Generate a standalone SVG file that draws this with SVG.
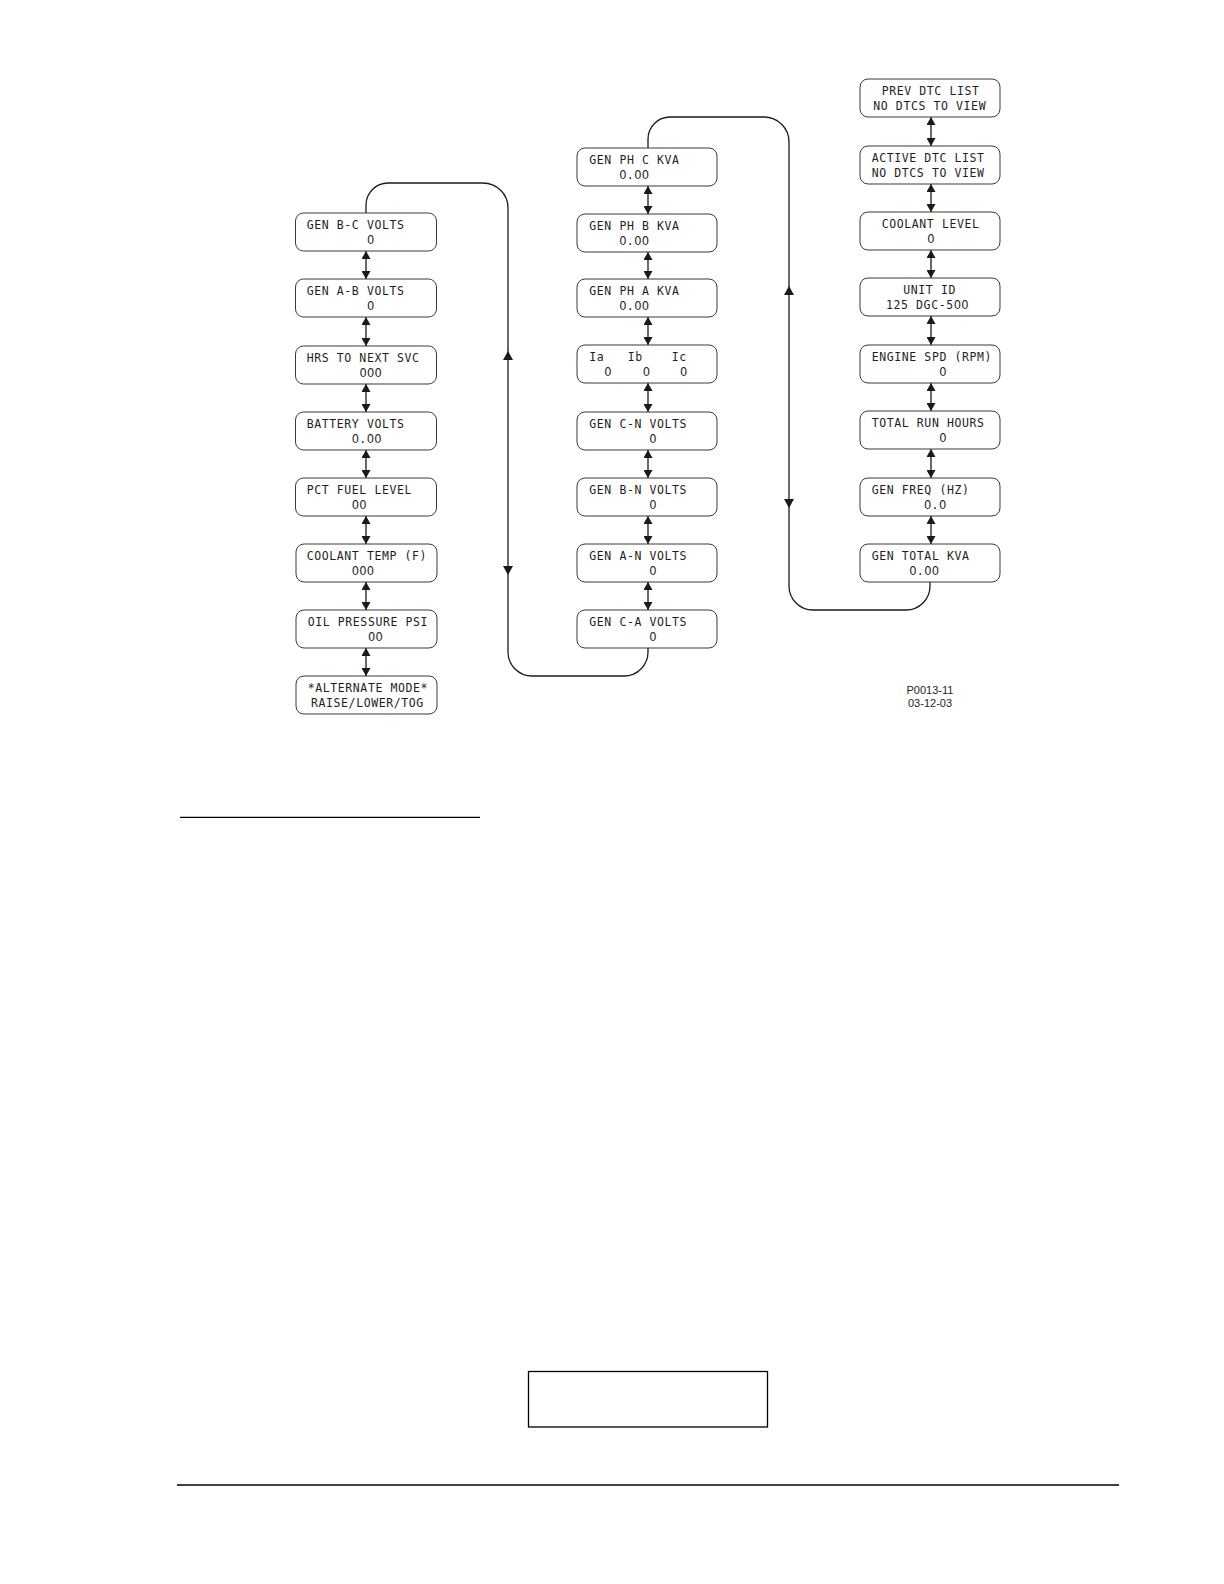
<svg xmlns="http://www.w3.org/2000/svg" width="1224" height="1584" viewBox="0 0 1224 1584">
<style>
.box{fill:#fff;stroke:#3a3a3a;stroke-width:1}
.t{font-family:"DejaVu Sans Mono","Liberation Mono",monospace;font-size:11.5px;letter-spacing:0.6px;fill:#1e1e1e}
.z{font-family:"DejaVu Sans","Liberation Sans",sans-serif;letter-spacing:0.19px}
.c{fill:none;stroke:#1a1a1a;stroke-width:1.3}
.d{stroke:#1a1a1a;stroke-width:1.3;marker-start:url(#ah);marker-end:url(#ah)}
.h{fill:#1a1a1a}
.lbl{font-family:"Liberation Sans",Arial,sans-serif;font-size:11px;fill:#1e1e1e}
.rule{stroke:#000;stroke-width:1.3}
</style>
<defs>
<marker id="ah" viewBox="0 0 8 9" refX="8" refY="4.5" markerWidth="8" markerHeight="9" markerUnits="userSpaceOnUse" orient="auto-start-reverse"><path d="M0,0 L8,4.5 L0,9 z" fill="#1a1a1a"/></marker>
</defs>
<rect width="1224" height="1584" fill="#fff"/>

<g id="connectors">
<path class="c" d="M366,213 V205 A22,22 0 0 1 388,183 H483 A25,25 0 0 1 508,208 V652 A24,24 0 0 0 532,676 H624 A24,24 0 0 0 648,652 V648"/>
<polygon class="h" points="508,351 503,360 513,360"/>
<polygon class="h" points="508,575 503,566 513,566"/>
<path class="c" d="M648,148 V139 A22,22 0 0 1 670,117 H764 A25,25 0 0 1 789,142 V586 A24,24 0 0 0 813,610 H906 A24,24 0 0 0 930,586 V582"/>
<polygon class="h" points="789,286 784,295 794,295"/>
<polygon class="h" points="789,508 784,499 794,499"/>
<line class="d" x1="366" y1="251" x2="366" y2="279"/>
<line class="d" x1="366" y1="317" x2="366" y2="346"/>
<line class="d" x1="366" y1="384" x2="366" y2="412"/>
<line class="d" x1="366" y1="450" x2="366" y2="478"/>
<line class="d" x1="366" y1="516" x2="366" y2="544"/>
<line class="d" x1="366" y1="582" x2="366" y2="610"/>
<line class="d" x1="366" y1="648" x2="366" y2="676"/>
<line class="d" x1="648" y1="186" x2="648" y2="214"/>
<line class="d" x1="648" y1="252" x2="648" y2="279"/>
<line class="d" x1="648" y1="317" x2="648" y2="345"/>
<line class="d" x1="648" y1="383" x2="648" y2="412"/>
<line class="d" x1="648" y1="450" x2="648" y2="478"/>
<line class="d" x1="648" y1="516" x2="648" y2="544"/>
<line class="d" x1="648" y1="582" x2="648" y2="610"/>
<line class="d" x1="931" y1="117" x2="931" y2="146"/>
<line class="d" x1="931" y1="184" x2="931" y2="212"/>
<line class="d" x1="931" y1="250" x2="931" y2="278"/>
<line class="d" x1="931" y1="316" x2="931" y2="345"/>
<line class="d" x1="931" y1="383" x2="931" y2="411"/>
<line class="d" x1="931" y1="449" x2="931" y2="478"/>
<line class="d" x1="931" y1="516" x2="931" y2="544"/>
</g>

<g id="n-genbc"><rect class="box" x="295.5" y="213" width="141" height="38" rx="8"/><text class="t" x="306.7" y="228.8">GEN B-C VOLTS</text><text class="t" x="367" y="243.8"><tspan class="z">0</tspan></text></g>
<g id="n-genab"><rect class="box" x="295.5" y="279" width="141" height="38" rx="8"/><text class="t" x="306.7" y="294.8">GEN A-B VOLTS</text><text class="t" x="367" y="309.8"><tspan class="z">0</tspan></text></g>
<g id="n-hrs"><rect class="box" x="295.5" y="346" width="141" height="38" rx="8"/><text class="t" x="306.7" y="361.8">HRS TO NEXT SVC</text><text class="t" x="359.5" y="376.8"><tspan class="z">000</tspan></text></g>
<g id="n-batt"><rect class="box" x="295.5" y="412" width="141" height="38" rx="8"/><text class="t" x="306.7" y="427.8">BATTERY VOLTS</text><text class="t" x="351.7" y="442.8"><tspan class="z">0</tspan>.<tspan class="z">00</tspan></text></g>
<g id="n-fuel"><rect class="box" x="295.5" y="478" width="141" height="38" rx="8"/><text class="t" x="306.7" y="493.8">PCT FUEL LEVEL</text><text class="t" x="351.7" y="508.8"><tspan class="z">00</tspan></text></g>
<g id="n-ctemp"><rect class="box" x="296" y="544" width="141" height="38" rx="8"/><text class="t" x="306.7" y="559.8">COOLANT TEMP (F)</text><text class="t" x="351.7" y="574.8"><tspan class="z">000</tspan></text></g>
<g id="n-oil"><rect class="box" x="296" y="610" width="141" height="38" rx="8"/><text class="t" x="307.7" y="625.8">OIL PRESSURE PSI</text><text class="t" x="368" y="640.8"><tspan class="z">00</tspan></text></g>
<g id="n-alt"><rect class="box" x="296" y="676" width="141" height="38" rx="8"/><text class="t" x="307.7" y="691.8">*ALTERNATE MODE*</text><text class="t" x="311" y="706.8">RAISE/LOWER/TOG</text></g>

<g id="n-phc"><rect class="box" x="577" y="148" width="140" height="38" rx="8"/><text class="t" x="589.3" y="163.8">GEN PH C KVA</text><text class="t" x="619.3" y="178.8"><tspan class="z">0</tspan>.<tspan class="z">00</tspan></text></g>
<g id="n-phb"><rect class="box" x="577" y="214" width="140" height="38" rx="8"/><text class="t" x="589.3" y="229.8">GEN PH B KVA</text><text class="t" x="619.3" y="244.8"><tspan class="z">0</tspan>.<tspan class="z">00</tspan></text></g>
<g id="n-pha"><rect class="box" x="577" y="279" width="140" height="38" rx="8"/><text class="t" x="589.3" y="294.8">GEN PH A KVA</text><text class="t" x="619.3" y="309.8"><tspan class="z">0</tspan>.<tspan class="z">00</tspan></text></g>
<g id="n-iabc"><rect class="box" x="577" y="345" width="140" height="38" rx="8"/><text class="t" x="589.3" y="360.8">Ia</text><text class="t" x="627.7" y="360.8">Ib</text><text class="t" x="671.7" y="360.8">Ic</text><text class="t" x="604.3" y="375.8"><tspan class="z">0</tspan></text><text class="t" x="642.7" y="375.8"><tspan class="z">0</tspan></text><text class="t" x="680" y="375.8"><tspan class="z">0</tspan></text></g>
<g id="n-gencn"><rect class="box" x="577" y="412" width="140" height="38" rx="8"/><text class="t" x="589.3" y="427.8">GEN C-N VOLTS</text><text class="t" x="649.3" y="442.8"><tspan class="z">0</tspan></text></g>
<g id="n-genbn"><rect class="box" x="577" y="478" width="140" height="38" rx="8"/><text class="t" x="589.3" y="493.8">GEN B-N VOLTS</text><text class="t" x="649.3" y="508.8"><tspan class="z">0</tspan></text></g>
<g id="n-genan"><rect class="box" x="577" y="544" width="140" height="38" rx="8"/><text class="t" x="589.3" y="559.8">GEN A-N VOLTS</text><text class="t" x="649.3" y="574.8"><tspan class="z">0</tspan></text></g>
<g id="n-genca"><rect class="box" x="577" y="610" width="140" height="38" rx="8"/><text class="t" x="589.3" y="625.8">GEN C-A VOLTS</text><text class="t" x="649.3" y="640.8"><tspan class="z">0</tspan></text></g>

<g id="n-prevdtc"><rect class="box" x="860" y="79" width="140" height="38" rx="8"/><text class="t" x="881.7" y="94.8">PREV DTC LIST</text><text class="t" x="873.3" y="109.8">NO DTCS TO VIEW</text></g>
<g id="n-activedtc"><rect class="box" x="860" y="146" width="140" height="38" rx="8"/><text class="t" x="871.7" y="161.8">ACTIVE DTC LIST</text><text class="t" x="871.7" y="176.8">NO DTCS TO VIEW</text></g>
<g id="n-clevel"><rect class="box" x="860" y="212" width="140" height="38" rx="8"/><text class="t" x="881.7" y="227.8">COOLANT LEVEL</text><text class="t" x="927.3" y="242.8"><tspan class="z">0</tspan></text></g>
<g id="n-unitid"><rect class="box" x="860" y="278" width="140" height="38" rx="8"/><text class="t" x="903.3" y="293.8">UNIT ID</text><text class="t" x="886" y="308.8">125 DGC-5<tspan class="z">00</tspan></text></g>
<g id="n-rpm"><rect class="box" x="860" y="345" width="140" height="38" rx="8"/><text class="t" x="871.7" y="360.8">ENGINE SPD (RPM)</text><text class="t" x="939.3" y="375.8"><tspan class="z">0</tspan></text></g>
<g id="n-runhrs"><rect class="box" x="860" y="411" width="140" height="38" rx="8"/><text class="t" x="871.7" y="426.8">TOTAL RUN HOURS</text><text class="t" x="939.3" y="441.8"><tspan class="z">0</tspan></text></g>
<g id="n-freq"><rect class="box" x="860" y="478" width="140" height="38" rx="8"/><text class="t" x="871.7" y="493.8">GEN FREQ (HZ)</text><text class="t" x="924" y="508.8"><tspan class="z">0</tspan>.<tspan class="z">0</tspan></text></g>
<g id="n-totkva"><rect class="box" x="860" y="544" width="140" height="38" rx="8"/><text class="t" x="871.7" y="559.8">GEN TOTAL KVA</text><text class="t" x="909.3" y="574.8"><tspan class="z">0</tspan>.<tspan class="z">00</tspan></text></g>

<g id="figlabel"><text class="lbl" x="906.5" y="693.5">P0013-11</text><text class="lbl" x="908" y="706.5">03-12-03</text></g>

<line class="rule" x1="180" y1="817.3" x2="480" y2="817.3"/>
<rect x="528.5" y="1371.5" width="239" height="55.5" fill="none" stroke="#000" stroke-width="1.3"/>
<line class="rule" x1="177" y1="1485" x2="1119" y2="1485"/>
</svg>
